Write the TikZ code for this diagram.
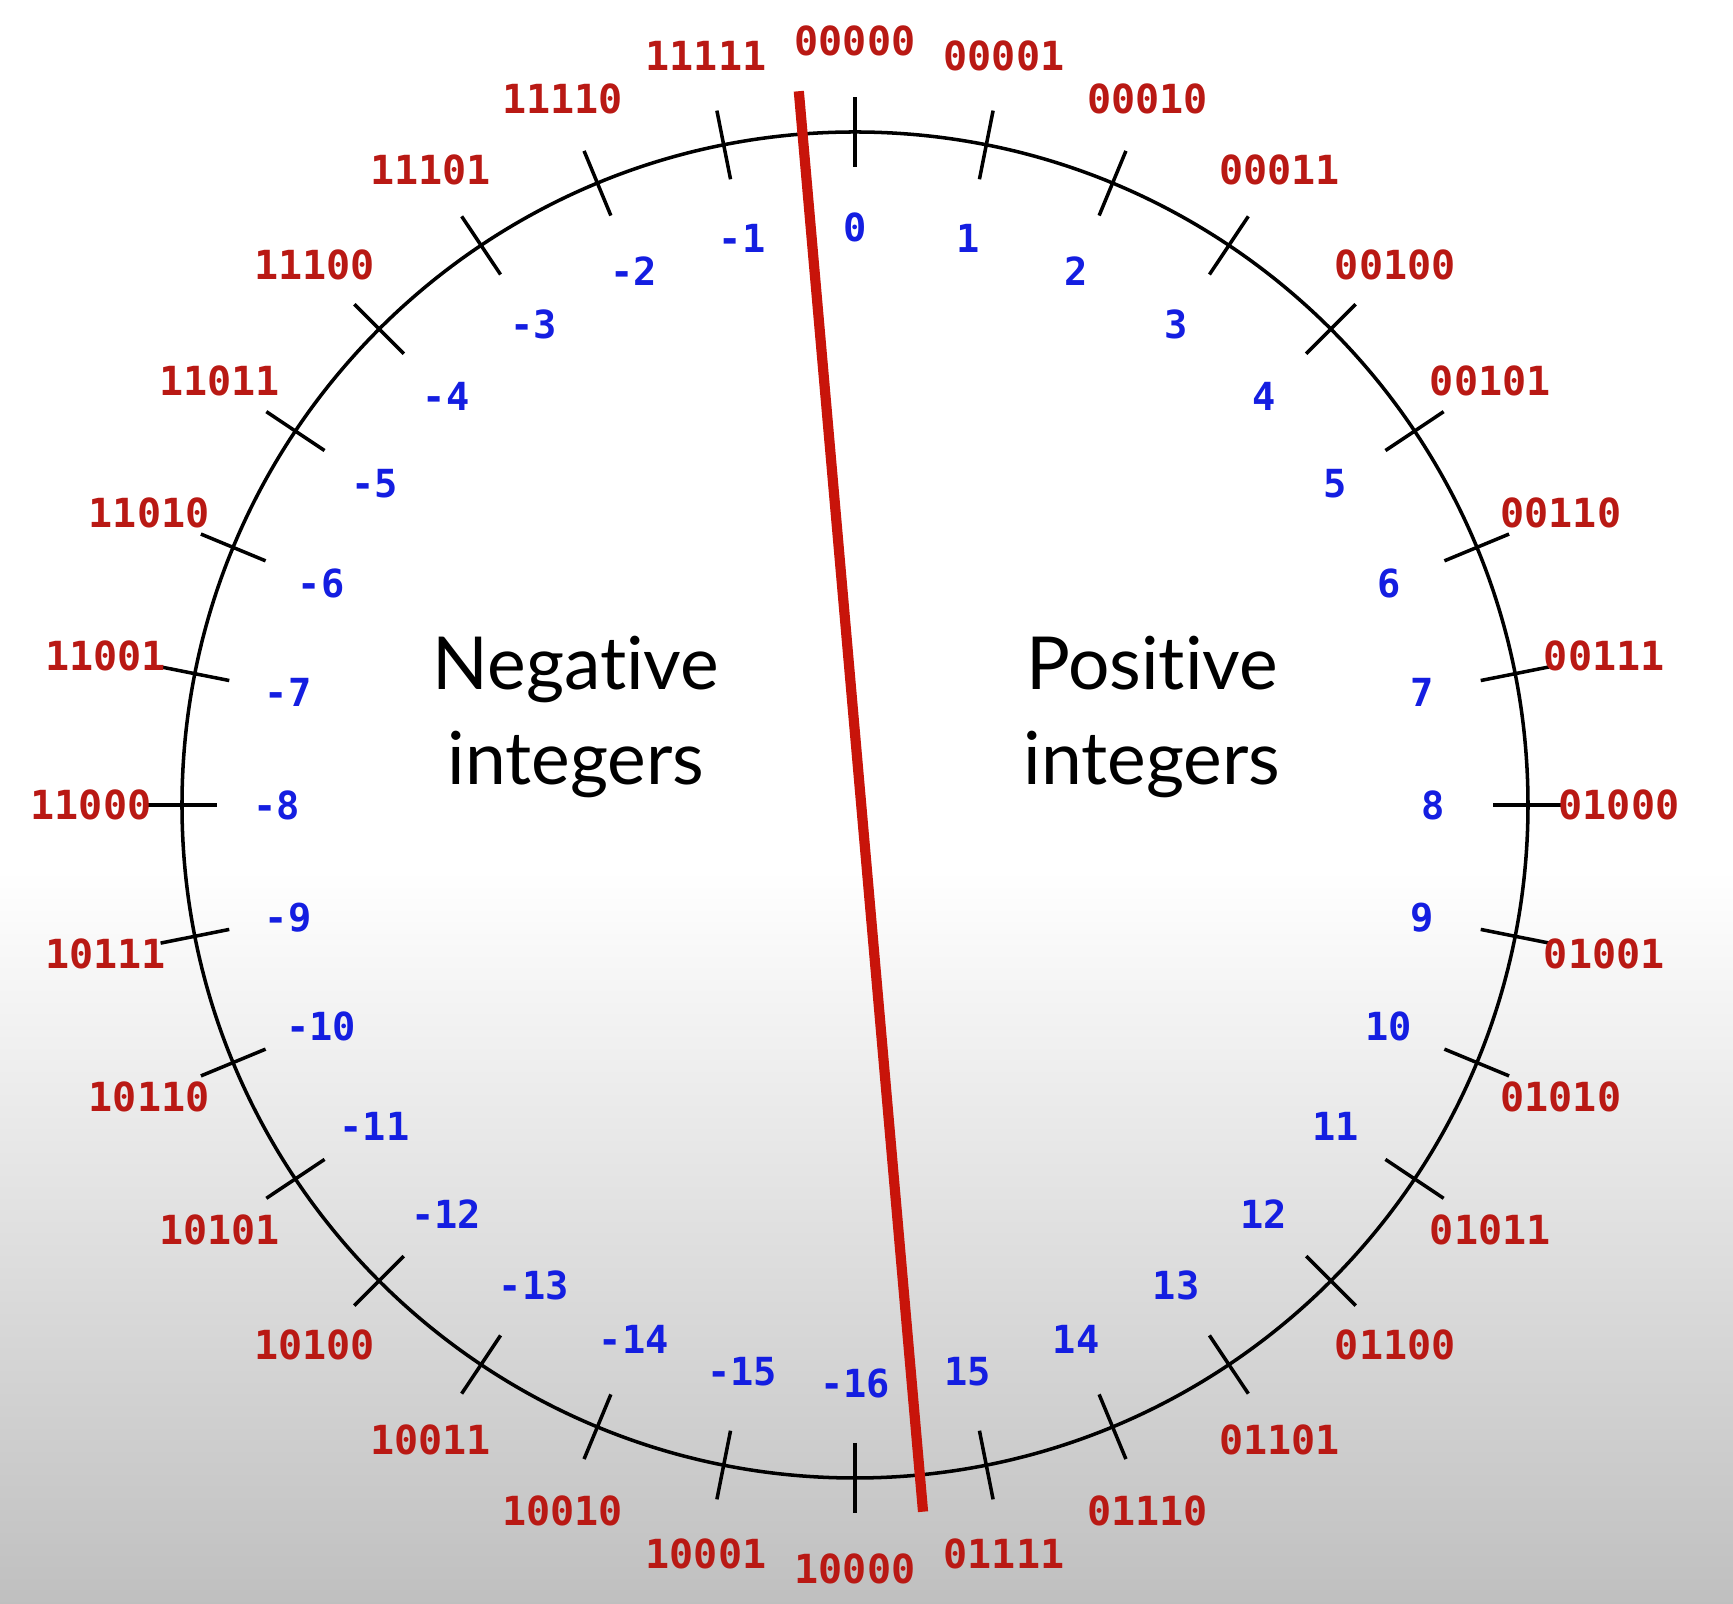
\documentclass[tikz,border=0pt]{standalone}
\usepackage{fontspec}
\setmainfont{Lato}
\setmonofont{DejaVu Sans Mono}
\usetikzlibrary{calc}
\definecolor{decblue}{RGB}{20,30,225}
\definecolor{binred}{RGB}{185,25,20}
\definecolor{divred}{RGB}{200,20,10}
% keep Lato from joining "t" and "i"
\newcommand{\nolig}{\kern0pt{}}

\begin{document}
\begin{tikzpicture}[
  x=0.01cm, y=0.01cm,
  wheel/.style={draw=black,line width=1pt},
  tickline/.style={draw=black,line width=1pt},
  dec/.style={font=\ttfamily\bfseries\fontsize{11}{13}\selectfont,text=decblue,inner sep=0pt},
  bin/.style={font=\ttfamily\bfseries\fontsize{11.4}{13}\selectfont,text=binred,inner sep=0pt},
  half/.style={font=\fontsize{20.8}{27}\selectfont,align=center,inner sep=0pt},
  divider/.style={draw=divred,line width=2.9pt},
]
% page and background (white, greying towards the bottom)
\useasboundingbox (-855,-799) rectangle (878,805);
\fill[white] (-855,-65) rectangle (878,805);
\shade[top color=white,bottom color=gray!50] (-855,-799) rectangle (878,-65);
% the wheel
\coordinate (c) at (0,0);
\draw[wheel] (c) circle (673);
% 32 ticks, decimal value inside, 5-bit pattern outside
\foreach \i/\b in {0/00000,1/00001,2/00010,3/00011,4/00100,5/00101,6/00110,7/00111,
                   8/01000,9/01001,10/01010,11/01011,12/01100,13/01101,14/01110,15/01111,
                   16/10000,17/10001,18/10010,19/10011,20/10100,21/10101,22/10110,23/10111,
                   24/11000,25/11001,26/11010,27/11011,28/11100,29/11101,30/11110,31/11111}{
  \pgfmathsetmacro{\ang}{90-\i*11.25}
  \pgfmathtruncatemacro{\val}{\i<16 ? \i : \i-32}
  \draw[tickline] (\ang:638) -- (\ang:708);
  \node[dec] (dec\i) at (\ang:578) {\val};
  \node[bin] (bin\i) at (\ang:764) {\b};
}
% split between negative and positive halves
\coordinate (divtop) at (94.5:716);
\coordinate (divbot) at (-84.5:710);
\draw[divider] (divtop) -- (divbot);
\node[half] (neg) at (-279,88) {Negat\nolig ive\\integers};
\node[half] (pos) at (297,88) {Posit\nolig ive\\integers};
\end{tikzpicture}
\end{document}
